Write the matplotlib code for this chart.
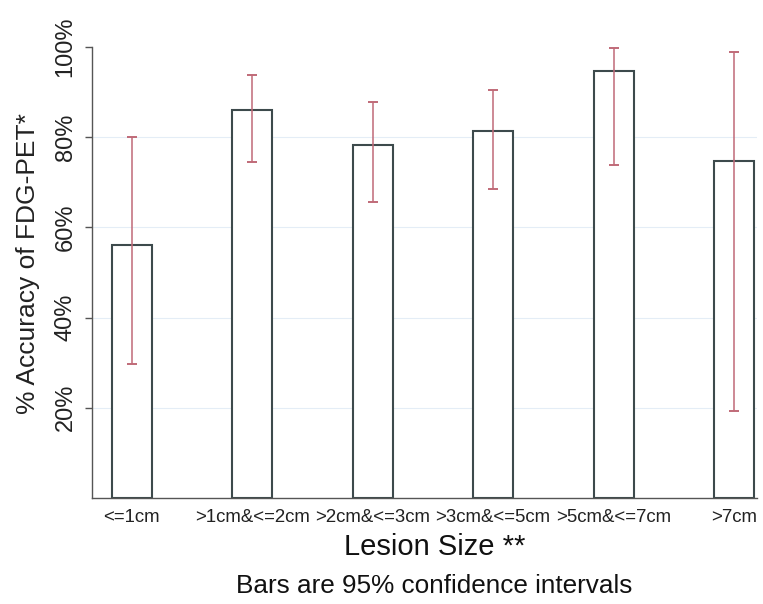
import matplotlib
matplotlib.use('Agg')
import matplotlib.pyplot as plt
import numpy as np

# values (percent)
categories = ['<=1cm', '>1cm&<=2cm', '>2cm&<=3cm', '>3cm&<=5cm', '>5cm&<=7cm', '>7cm']
accuracy = [56.1, 86.0, 78.2, 81.4, 94.6, 74.7]
ci_low = [29.8, 74.5, 65.6, 68.5, 73.8, 19.2]
ci_high = [80.0, 93.7, 87.7, 90.5, 99.7, 99.0]
yticks = [20, 40, 60, 80, 100]

plt.rcParams['font.family'] = ['Liberation Sans', 'DejaVu Sans']

fig = plt.figure(figsize=(7.63, 6.04), dpi=100)
ax = fig.add_axes([92 / 763, 1 - 498 / 604, (757 - 92) / 763, (498 - 47) / 604])

x = np.arange(len(categories))
acc = np.array(accuracy)
lo = acc - np.array(ci_low)
hi = np.array(ci_high) - acc

for y in [20, 40, 60, 80]:
    ax.axhline(y, color='#e4edf6', lw=0.8, zorder=0)

ax.bar(x, acc, width=0.33, facecolor='white', edgecolor='#3d4a4c', linewidth=1.5, zorder=2)
ax.errorbar(x, acc, yerr=[lo, hi], fmt='none', ecolor='#c06a78', elinewidth=1.1,
            capsize=3.5, capthick=1.4, zorder=3, clip_on=False)

ax.set_xlim(-0.33, 5.19)
ax.set_ylim(0, 100)
ax.set_yticks(yticks)
ax.set_yticklabels([f'{v}%' for v in yticks], rotation=90, va='center', fontsize=17, color='#222222')
ax.set_xticks(x)
ax.set_xticklabels(categories, fontsize=13.4, color='#222222')
ax.tick_params(axis='x', length=0, pad=8)
ax.tick_params(axis='y', length=5, width=1, color='#555555', pad=6)

for s in ['top', 'right']:
    ax.spines[s].set_visible(False)
for s in ['left', 'bottom']:
    ax.spines[s].set_color('#555555')
    ax.spines[s].set_linewidth(1.0)

fig.text(28 / 763, 1 - 264 / 604, '% Accuracy of FDG-PET*', rotation=90,
         ha='center', va='center', fontsize=19, color='#222222')
fig.text(435 / 763, 1 - 547 / 604, 'Lesion Size **', ha='center', va='center',
         fontsize=21, color='#111111')
fig.text(434 / 763, 1 - 586 / 604, 'Bars are 95% confidence intervals', ha='center',
         va='center', fontsize=18.8, color='#111111')

fig.savefig('out.png', dpi=100)
